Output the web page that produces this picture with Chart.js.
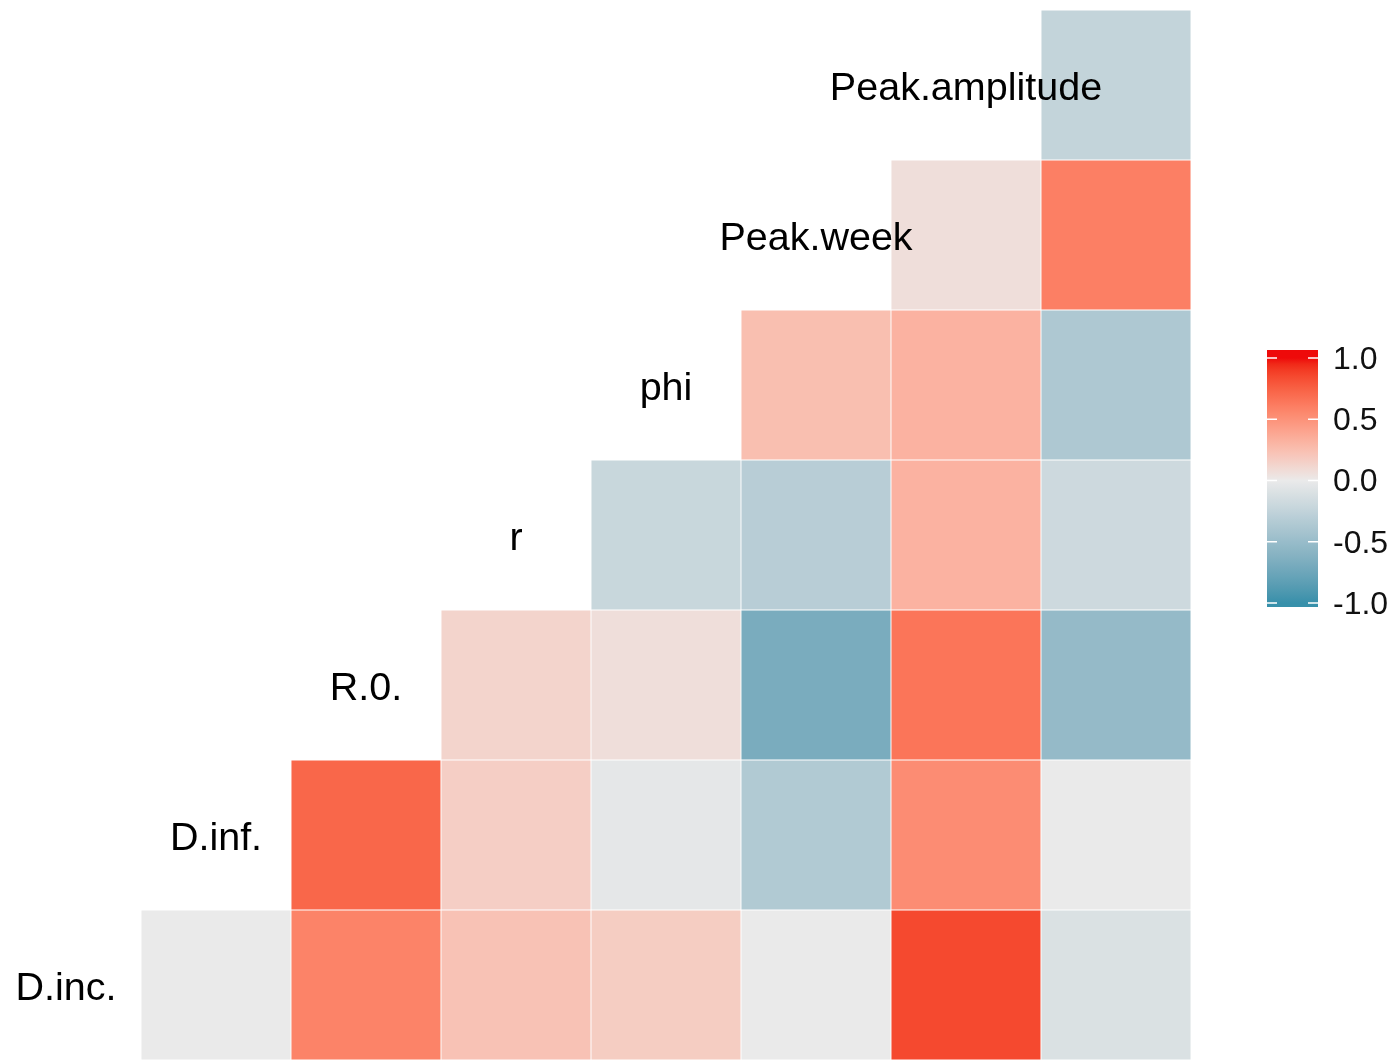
<!DOCTYPE html>
<html>
<head>
<meta charset="utf-8">
<script src="https://cdn.jsdelivr.net/npm/chart.js@4.4.1/dist/chart.umd.min.js"></script>
<style>
  html, body { margin: 0; padding: 0; background: #fff; }
  #wrap { width: 1393px; height: 1061px; position: relative; }
</style>
</head>
<body>
<div id="wrap"><canvas id="corr"></canvas></div>
<script>
// variables on the diagonal (row labels, bottom to top)
const variables = ['D.inc.', 'D.inf.', 'R.0.', 'r', 'phi', 'Peak.week', 'Peak.amplitude'];
// columns of the grid (last variable's label is cut off in the original)
const columns = ['D.inf.', 'R.0.', 'r', 'phi', 'Peak.week', 'Peak.amplitude', ''];

// correlations, one array per row, starting at the diagonal
const corDInc  = [0.0, 0.58, 0.23, 0.17, 0.0, 0.85, -0.1];
const corDInf  = [0.72, 0.16, -0.03, -0.35, 0.53, 0.0];
const corR0    = [0.13, 0.07, -0.68, 0.65, -0.52];
const corR     = [-0.21, -0.31, 0.32, -0.18];
const corPhi   = [0.25, 0.32, -0.37];
const corPeakW = [0.07, 0.6];
const corPeakA = [-0.24];
const rows = [corDInc, corDInf, corR0, corR, corPhi, corPeakW, corPeakA];

const legendTicks = [1.0, 0.5, 0.0, -0.5, -1.0];
const legendTickLabels = ['1.0', '0.5', '0.0', '-0.5', '-1.0'];

// --- colour scale: diverging gradient interpolated in Lab, like ggplot ---
const LOW = '#3790AA', MID = '#EAEAEA', HIGH = '#EE0A0A';

function hexToRgb(h) {
  return [1, 3, 5].map(i => parseInt(h.substr(i, 2), 16));
}
function toLin(c) { c /= 255; return c <= 0.04045 ? c / 12.92 : Math.pow((c + 0.055) / 1.055, 2.4); }
function fromLin(c) {
  const v = c <= 0.0031308 ? 12.92 * c : 1.055 * Math.pow(c, 1 / 2.4) - 0.055;
  return Math.round(Math.max(0, Math.min(1, v)) * 255);
}
const WX = 0.95047, WY = 1.0, WZ = 1.08883;
function rgbToLab(rgb) {
  const [r, g, b] = rgb.map(toLin);
  const x = (r * 0.4124 + g * 0.3576 + b * 0.1805) / WX;
  const y = (r * 0.2126 + g * 0.7152 + b * 0.0722) / WY;
  const z = (r * 0.0193 + g * 0.1192 + b * 0.9505) / WZ;
  const f = t => t > 0.008856 ? Math.cbrt(t) : 7.787 * t + 16 / 116;
  const fx = f(x), fy = f(y), fz = f(z);
  return [116 * fy - 16, 500 * (fx - fy), 200 * (fy - fz)];
}
function labToRgb(lab) {
  const fy = (lab[0] + 16) / 116, fx = fy + lab[1] / 500, fz = fy - lab[2] / 200;
  const fi = t => t * t * t > 0.008856 ? t * t * t : (t - 16 / 116) / 7.787;
  const x = fi(fx) * WX, y = fi(fy) * WY, z = fi(fz) * WZ;
  const r = x * 3.2406 + y * -1.5372 + z * -0.4986;
  const g = x * -0.9689 + y * 1.8758 + z * 0.0415;
  const b = x * 0.0557 + y * -0.2040 + z * 1.0570;
  return [fromLin(r), fromLin(g), fromLin(b)];
}
const labLow = rgbToLab(hexToRgb(LOW)), labMid = rgbToLab(hexToRgb(MID)), labHigh = rgbToLab(hexToRgb(HIGH));
function fillFor(v) {
  const t = Math.min(1, Math.abs(v));
  const end = v < 0 ? labLow : labHigh;
  const lab = labMid.map((m, i) => m + (end[i] - m) * t);
  const c = labToRgb(lab);
  return `rgb(${c[0]},${c[1]},${c[2]})`;
}

// --- datasets: one floating-bar row per variable ---
const datasets = rows.map((vals, i) => ({
  label: variables[i],
  data: columns.map((c, j) => (j >= i ? [i, i + 1] : null)),
  backgroundColor: ctx => fillFor(vals[ctx.dataIndex - i]),
  borderColor: 'rgba(255,255,255,0.55)',
  borderWidth: 0.8,
  borderSkipped: false,
  grouped: false,
  barPercentage: 1,
  categoryPercentage: 1
}));

// diagonal labels
const diagLabels = {
  id: 'diagLabels',
  afterDatasetsDraw(chart) {
    const { ctx, scales: { x, y } } = chart;
    ctx.save();
    ctx.font = '39.5px "Liberation Sans", Arial, sans-serif';
    ctx.fillStyle = '#000';
    ctx.textAlign = 'center';
    ctx.textBaseline = 'middle';
    variables.forEach((name, i) => {
      ctx.fillText(name, x.getPixelForValue(i - 1), y.getPixelForValue(i + 0.5) + 4);
    });
    ctx.restore();
  }
};

// colour bar legend
const colourBar = {
  id: 'colourBar',
  afterDraw(chart) {
    const { ctx, chartArea } = chart;
    const left = chartArea.right + 76, w = 51;
    const top = 350, bottom = 607;
    const vTop = 358, vBot = 603;   // pixel of +1 and -1
    const pos = v => vBot - (v + 1) / 2 * (vBot - vTop);
    ctx.save();
    const grad = ctx.createLinearGradient(0, vTop, 0, vBot);
    for (let k = 0; k <= 40; k++) {
      const v = 1 - k / 20;
      grad.addColorStop(k / 40, fillFor(v));
    }
    ctx.fillStyle = grad;
    ctx.fillRect(left, top, w, bottom - top);
    ctx.strokeStyle = '#fff';
    ctx.lineWidth = 1.5;
    ctx.font = '32px "Liberation Sans", Arial, sans-serif';
    ctx.fillStyle = '#111';
    ctx.textAlign = 'left';
    ctx.textBaseline = 'middle';
    legendTicks.forEach((v, i) => {
      const py = pos(v);
      ctx.beginPath();
      ctx.moveTo(left, py); ctx.lineTo(left + 10, py);
      ctx.moveTo(left + w - 10, py); ctx.lineTo(left + w, py);
      ctx.stroke();
      ctx.fillText(legendTickLabels[i], left + 66, py + 2);
    });
    ctx.restore();
  }
};

new Chart(document.getElementById('corr'), {
  type: 'bar',
  data: { labels: columns, datasets },
  options: {
    responsive: true,
    maintainAspectRatio: false,
    animation: false,
    layout: { padding: { left: 141, right: 202, top: 10, bottom: 1 } },
    scales: {
      x: { display: false, offset: true },
      y: { display: false, min: 0, max: 7 }
    },
    plugins: {
      legend: { display: false },
      tooltip: { enabled: false }
    }
  },
  plugins: [diagLabels, colourBar]
});
</script>
</body>
</html>
